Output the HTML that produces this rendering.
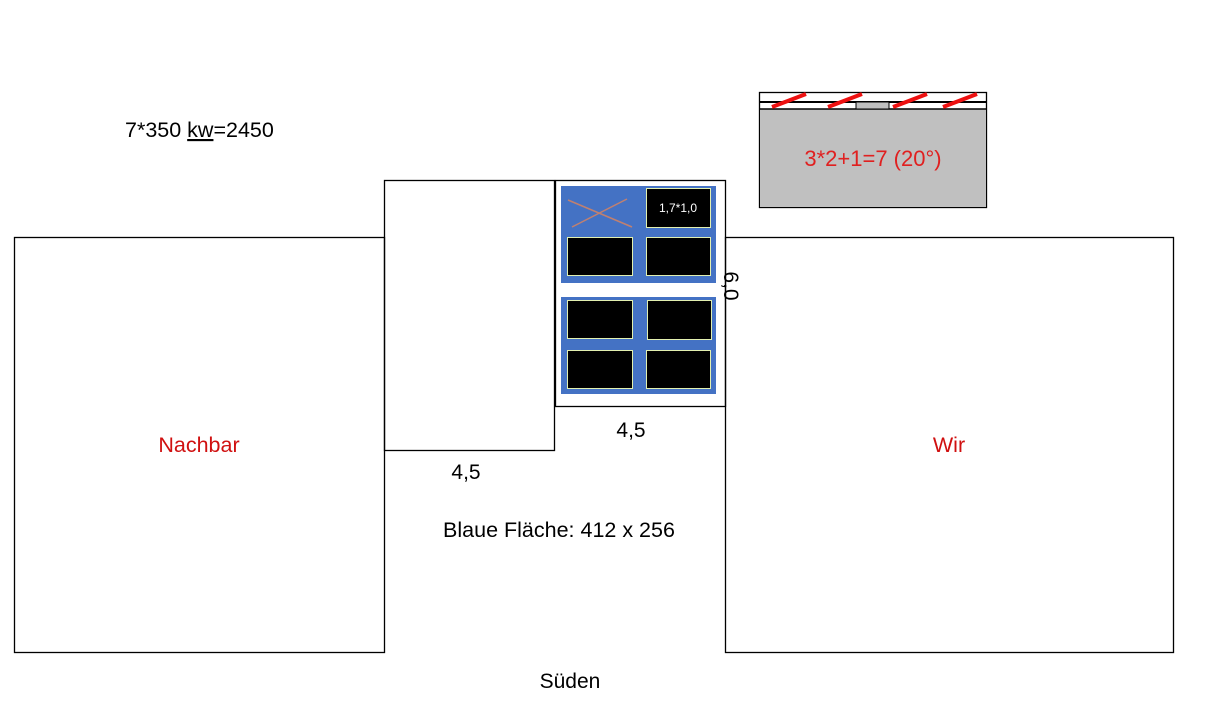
<!DOCTYPE html>
<html><head><meta charset="utf-8"><style>html,body{margin:0;padding:0;background:#fff}svg{display:block}</style></head>
<body>
<svg width="1225" height="718" viewBox="0 0 1225 718" xmlns="http://www.w3.org/2000/svg" font-family="Liberation Sans, sans-serif">
<g fill="none" stroke="#000" stroke-width="1.3">
<rect x="14.5" y="237.5" width="370" height="415"/>
<rect x="384.5" y="180.5" width="170" height="270"/>
<rect x="725.5" y="237.5" width="448" height="415"/>
<rect x="555.5" y="180.5" width="170" height="226"/>
</g>
<rect x="561" y="186" width="155" height="97" fill="#4472c4"/>
<rect x="561" y="297" width="155" height="97" fill="#4472c4"/>
<g fill="#000" stroke="#e2f0b0" stroke-width="1">
<rect x="646.5" y="188.5" width="64" height="39"/>
<rect x="567.5" y="237.5" width="65" height="38"/>
<rect x="646.5" y="237.5" width="64" height="38"/>
<rect x="567.5" y="300.5" width="65" height="38"/>
<rect x="647.5" y="300.5" width="64" height="39"/>
<rect x="567.5" y="350.5" width="65" height="38"/>
<rect x="646.5" y="350.5" width="64" height="38"/>
</g>
<g stroke="#c08070" stroke-width="1.5"><line x1="568" y1="200" x2="632" y2="227"/><line x1="572" y1="227" x2="627" y2="199"/></g>
<text x="678" y="212" fill="#fff" font-size="12" text-anchor="middle">1,7*1,0</text>
<text transform="translate(724,286) rotate(90)" font-size="21" text-anchor="middle" fill="#000">6,0</text>
<rect x="759.5" y="92.5" width="227" height="115" fill="#fff" stroke="#000" stroke-width="1.3"/>
<rect x="760" y="109" width="226" height="98" fill="#c0c0c0"/>
<line x1="759" y1="102" x2="987" y2="102" stroke="#000" stroke-width="2"/>
<line x1="759" y1="109" x2="987" y2="109" stroke="#000" stroke-width="1.5"/>
<rect x="856" y="102" width="33" height="7" fill="#c0c0c0" stroke="#000" stroke-width="1"/>
<g stroke="#ee1111" stroke-width="4">
<line x1="772" y1="107" x2="806" y2="94"/><line x1="828" y1="107" x2="862" y2="94"/>
<line x1="893" y1="107" x2="927" y2="94"/><line x1="943" y1="107" x2="977" y2="94"/>
</g>
<text x="873" y="166" fill="#e02020" font-size="22" text-anchor="middle">3*2+1=7 (20°)</text>
<text x="125" y="137" font-size="21.5">7*350 <tspan text-decoration="underline">kw</tspan>=2450</text>
<text x="199" y="452" fill="#d01010" font-size="21.5" text-anchor="middle">Nachbar</text>
<text x="949" y="452" fill="#d01010" font-size="21.5" text-anchor="middle">Wir</text>
<text x="631" y="437" font-size="21" text-anchor="middle">4,5</text>
<text x="466" y="479" font-size="21" text-anchor="middle">4,5</text>
<text x="559" y="537" font-size="21.5" text-anchor="middle">Blaue Fläche: 412 x 256</text>
<text x="570" y="688" font-size="21" text-anchor="middle">Süden</text>
</svg>
</body></html>
